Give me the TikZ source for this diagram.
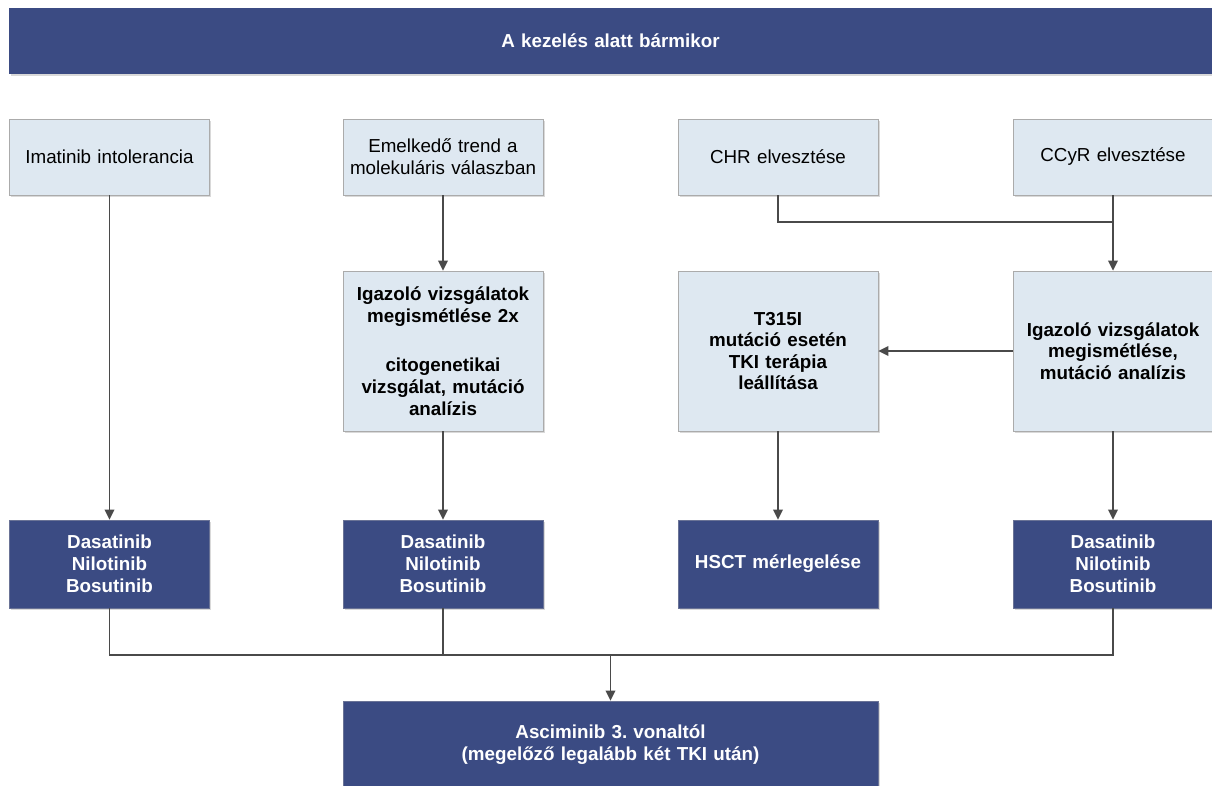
\documentclass[tikz,border=0pt]{standalone}
\usepackage{fontspec}
\setmainfont{Liberation Sans}
\usetikzlibrary{arrows.meta,shadows}
\frenchspacing
\definecolor{darkblue}{HTML}{3B4B83}
\definecolor{lightfill}{HTML}{DEE8F1}
\definecolor{bordergray}{HTML}{ABABAB}
\definecolor{darkborder}{HTML}{6A7396}
\definecolor{linegray}{HTML}{4A4A4A}
\tikzset{
  basebox/.style={rectangle, inner sep=0pt, minimum width=150pt, text width=146pt, align=center,
    font=\fontsize{14.1}{16.6}\selectfont,
    drop shadow={shadow xshift=1.3pt, shadow yshift=-1.3pt, fill=black, opacity=0.15}},
  lbox/.style={basebox, fill=lightfill, draw=bordergray, line width=0.6pt},
  dbox/.style={basebox, fill=darkblue, draw=darkborder, line width=0.6pt, text=white,
    font=\fontsize{14.1}{16.6}\selectfont\bfseries},
  bfl/.style={font=\fontsize{14.1}{16.2}\selectfont\bfseries},
  conn/.style={draw=linegray, line width=1.2pt},
  arr/.style={conn, -{Triangle[length=7.5pt,width=7.2pt]}}
}
\begin{document}
\begin{tikzpicture}[x=0.75pt,y=-0.75pt]
\useasboundingbox (0,0) rectangle (1212,785);
\clip (0,0) rectangle (1212,785);
% top bar
\node[dbox, draw=none, minimum width=902.25pt, text width=880pt, minimum height=49.5pt] (top) at (610.5,41) {A kezelés alatt bármikor};
% row 1
\node[lbox, minimum height=57pt] (i1) at (109.5,157) {Imatinib intolerancia};
\node[lbox, minimum height=57pt] (e1) at (443,157) {Emelkedő trend a\\molekuláris válaszban};
\node[lbox, minimum height=57pt] (c1) at (778,157) {CHR elvesztése};
\node[lbox, minimum height=57pt] (y1) at (1113,157) {CCyR elvesztése};
% row 2
\node[lbox, bfl, minimum height=120pt] (v2) at (443,351) {Igazoló vizsgálatok\\megismétlése 2x\\[21pt]citogenetikai\\vizsgálat, mutáció\\analízis};
\node[lbox, bfl, minimum height=120pt] (t2) at (778,351) {T315I\\mutáció esetén\\TKI terápia\\leállítása};
\node[lbox, bfl, minimum height=120pt] (v4) at (1113,351) {Igazoló vizsgálatok\\megismétlése,\\mutáció analízis};
% row 3
\node[dbox, minimum height=66pt] (d1) at (109.5,564) {Dasatinib\\Nilotinib\\Bosutinib};
\node[dbox, minimum height=66pt] (d2) at (443,564) {Dasatinib\\Nilotinib\\Bosutinib};
\node[dbox, minimum height=66pt] (h3) at (778,564) {HSCT mérlegelése};
\node[dbox, minimum height=66pt] (d4) at (1113,564) {Dasatinib\\Nilotinib\\Bosutinib};
% bottom
\node[dbox, minimum width=401.25pt, text width=390pt, minimum height=66pt] (asc) at (610.5,745) {Asciminib 3. vonaltól\\(megelőző legalább két TKI után)};
% junctions
\coordinate (j1) at (1113,222);
\coordinate (jb) at (610.5,655);
% connectors
\draw[arr] (i1.south) -- (d1.north);
\draw[arr] (e1.south) -- (v2.north);
\draw[arr] (v2.south) -- (d2.north);
\draw[conn] (c1.south) |- (j1);
\draw[arr] (y1.south) -- (v4.north);
\draw[arr] (v4.west) -- (t2.east);
\draw[arr] (t2.south) -- (h3.north);
\draw[arr] (v4.south) -- (d4.north);
\draw[conn] (d1.south) |- (jb) -| (d4.south);
\draw[conn] (d2.south) -- (d2.south |- jb);
\draw[arr] (jb) -- (asc.north);
\end{tikzpicture}
\end{document}
